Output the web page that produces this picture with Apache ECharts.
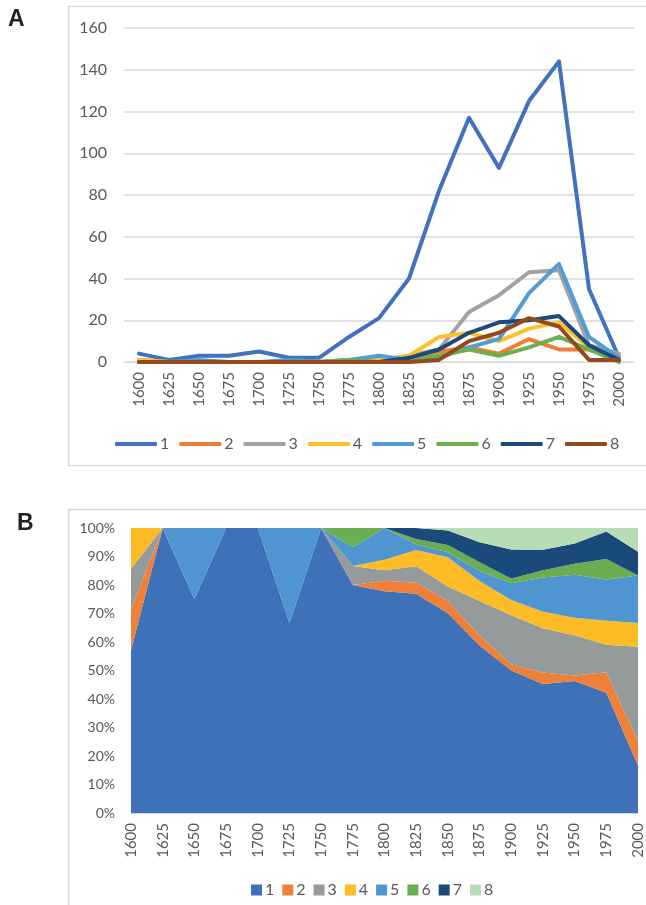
<!DOCTYPE html>
<html>
<head>
<meta charset="utf-8">
<script src="https://cdn.jsdelivr.net/npm/echarts@6/dist/echarts.min.js"></script>
<style>
  body { margin: 0; background: #fff; }
  #main { width: 646px; height: 905px; }
</style>
</head>
<body>
<div id="main"></div>
<script>
var years = ['1600', '1625', '1650', '1675', '1700', '1725', '1750', '1775', '1800',
             '1825', '1850', '1875', '1900', '1925', '1950', '1975', '2000'];

// counts per group (panel B is the same data as % of total)
var g1 = [4, 1, 3, 3, 5, 2, 2, 12, 21, 40, 82, 117, 93, 125, 144, 35, 2];
var g2 = [1, 0, 0, 0, 0, 0, 0, 0, 1, 2, 5, 7, 4, 11, 6, 6, 1];
var g3 = [1, 0, 0, 0, 0, 0, 0, 1, 1, 3, 6, 24, 32, 43, 44, 8, 4];
var g4 = [1, 0, 0, 0, 0, 0, 0, 0, 1, 3, 12, 14, 10, 16, 19, 7, 1];
var g5 = [0, 0, 1, 0, 0, 1, 0, 1, 3, 1, 2, 7, 11, 33, 47, 12, 2];
var g6 = [0, 0, 0, 0, 0, 0, 0, 1, 0, 1, 3, 6, 3, 7, 12, 6, 0];
var g7 = [0, 0, 0, 0, 0, 0, 0, 0, 0, 2, 6, 14, 19, 20, 22, 8, 1];
var g8 = [0, 0, 0, 0, 0, 0, 0, 0, 0, 0, 1, 10, 14, 21, 17, 1, 1];

var groupNames = ['1', '2', '3', '4', '5', '6', '7', '8'];
var yTicksA = [0, 160, 20];   // min, max, step
var yTicksB = [0, 100, 10];

var groups = [g1, g2, g3, g4, g5, g6, g7, g8];
var colorsA = ['#4272BE', '#EE7E33', '#A2A2A2', '#FEC12A', '#539BD6', '#6CAF4E', '#1D4A7C', '#954A1D'];
var colorsB = ['#3E71B8', '#EF8038', '#959A9B', '#FDBC26', '#4F96D0', '#6AAE52', '#194A7A', '#B8DDB6'];

var font = 'Lato, "Noto Sans", sans-serif';
var txt = '#595959';
var grey = '#d9d9d9';

// totals for the 100% stacked panel
var totals = years.map(function (y, i) {
    var s = 0;
    groups.forEach(function (g) { s += g[i]; });
    return s;
});

var series = [];
groups.forEach(function (g, k) {
    series.push({
        name: groupNames[k],
        type: 'line',
        xAxisIndex: 0,
        yAxisIndex: 0,
        data: g,
        symbol: 'none',
        lineStyle: { width: 4, color: colorsA[k], join: 'round', cap: 'round' },
        itemStyle: { color: colorsA[k] },
        z: 2 + k
    });
});
groups.forEach(function (g, k) {
    series.push({
        name: 'B' + groupNames[k],
        type: 'line',
        xAxisIndex: 1,
        yAxisIndex: 1,
        stack: 'pct',
        data: g.map(function (v, i) { return v / totals[i] * 100; }),
        symbol: 'none',
        lineStyle: { width: 0 },
        areaStyle: { color: colorsB[k], opacity: 1 },
        itemStyle: { color: colorsB[k] }
    });
});

var myChart = echarts.init(document.getElementById('main'));

option = {
    animation: false,
    textStyle: { fontFamily: font },
    graphic: [
        { type: 'rect', shape: { x: 68.5, y: 6.5, width: 620, height: 459 },
          style: { fill: 'none', stroke: grey, lineWidth: 1.5 } },
        { type: 'rect', shape: { x: 68.5, y: 509.5, width: 620, height: 430 },
          style: { fill: 'none', stroke: grey, lineWidth: 1.5 } },
        { type: 'text', left: 8, top: 8,
          style: { text: 'A', font: 'bold 23px "Liberation Sans", Arial', fill: '#222' } },
        { type: 'text', left: 17, top: 512,
          style: { text: 'B', font: 'bold 23px "Liberation Sans", Arial', fill: '#222' } }
    ],
    grid: [
        { left: 124, top: 28, width: 510, height: 334 },
        { left: 131, top: 528, width: 507, height: 285 }
    ],
    legend: [
        {
            data: groupNames.map(function (n, k) {
                return { name: n, icon: 'roundRect', itemStyle: { color: colorsA[k] } };
            }),
            left: 110,
            top: 431,
            itemWidth: 42,
            itemHeight: 4,
            itemGap: 10,
            textStyle: { color: txt, fontSize: 16, fontFamily: font, padding: [0, 0, 0, -2] }
        },
        {
            data: groupNames.map(function (n, k) {
                return { name: 'B' + n, icon: 'rect', itemStyle: { color: colorsB[k] } };
            }),
            formatter: function (name) { return name.slice(1); },
            left: 246,
            top: 877,
            itemWidth: 11,
            itemHeight: 11,
            itemGap: 8,
            textStyle: { color: txt, fontSize: 16, fontFamily: font, padding: [0, 0, 0, -2] }
        }
    ],
    xAxis: [
        {
            gridIndex: 0,
            type: 'category',
            data: years,
            boundaryGap: true,
            axisTick: { show: false },
            axisLine: { lineStyle: { color: grey, width: 1 } },
            axisLabel: { rotate: 90, interval: 0, margin: 10, color: txt, fontSize: 15, fontFamily: font }
        },
        {
            gridIndex: 1,
            type: 'category',
            data: years,
            boundaryGap: false,
            axisTick: { show: false },
            axisLine: { lineStyle: { color: grey, width: 1 } },
            axisLabel: { rotate: 90, interval: 0, margin: 10, color: txt, fontSize: 15, fontFamily: font }
        }
    ],
    yAxis: [
        {
            gridIndex: 0,
            type: 'value',
            min: yTicksA[0],
            max: yTicksA[1],
            interval: yTicksA[2],
            axisLine: { show: false },
            axisTick: { show: false },
            splitLine: { lineStyle: { color: grey, width: 1.5 } },
            axisLabel: { margin: 17, color: txt, fontSize: 16, fontFamily: font }
        },
        {
            gridIndex: 1,
            type: 'value',
            min: yTicksB[0],
            max: yTicksB[1],
            interval: yTicksB[2],
            axisLine: { show: false },
            axisTick: { show: false },
            splitLine: { show: false },
            axisLabel: { margin: 16, color: txt, fontSize: 14, fontFamily: font, formatter: '{value}%' }
        }
    ],
    series: series
};

myChart.setOption(option);
</script>
</body>
</html>
